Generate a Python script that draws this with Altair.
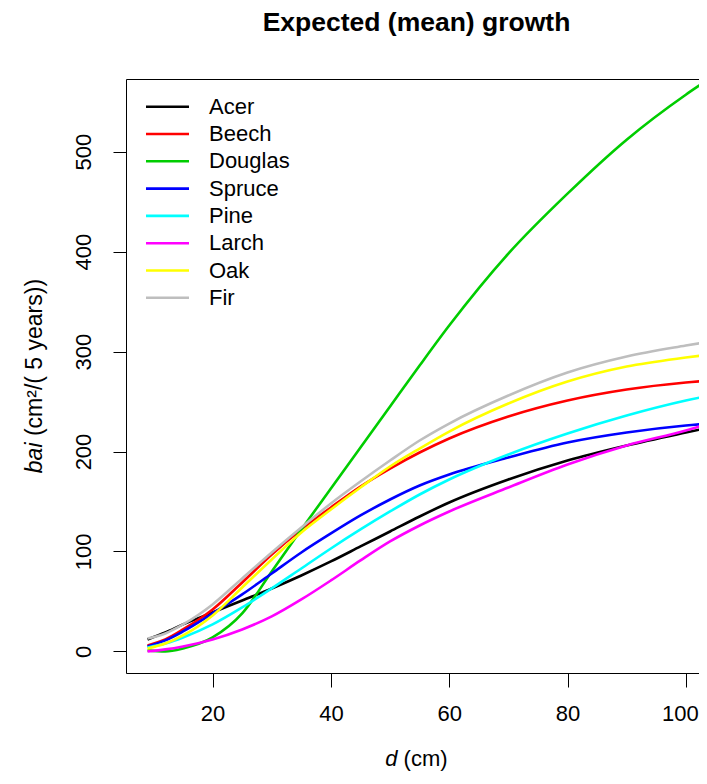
import altair as alt
import pandas as pd

# ---- data ----
d = [9, 12, 15, 20, 25, 30, 35, 40, 45, 50, 55, 60, 70, 80, 90, 100, 104]

acer    = [12, 19, 27, 39, 51, 63, 76, 90, 105, 120, 135, 149, 172, 191, 206, 219, 224]
beech   = [6, 12, 22, 42, 69, 97, 122, 144, 165, 183, 199, 213, 235, 251, 262, 269, 271]
douglas = [1, 0, 3, 14, 38, 80, 122, 163, 204, 245, 286, 326, 398, 458, 512, 557, 573]
spruce  = [5, 11, 20, 38, 57, 78, 99, 118, 136, 152, 166, 177, 194, 209, 219, 226, 228]
pine    = [4, 8, 14, 27, 44, 63, 83, 103, 122, 140, 157, 172, 197, 218, 236, 251, 256]
larch   = [0, 2, 5, 12, 22, 35, 52, 71, 91, 110, 126, 140, 164, 187, 206, 221, 228]
oak     = [3, 8, 16, 36, 64, 92, 119, 142, 164, 185, 203, 220, 248, 270, 285, 294, 297]
fir     = [13, 18, 27, 47, 73, 99, 124, 148, 170, 191, 211, 228, 256, 279, 295, 306, 310]

species = ["Acer", "Beech", "Douglas", "Spruce", "Pine", "Larch", "Oak", "Fir"]
colors = ["#000000", "#FF0000", "#00CD00", "#0000FF", "#00FFFF", "#FF00FF", "#FFFF00", "#BEBEBE"]

x_ticks = [20, 40, 60, 80, 100]
y_ticks = [0, 100, 200, 300, 400, 500]

series = dict(zip(species, [acer, beech, douglas, spruce, pine, larch, oak, fir]))
rows = []
for k, sp in enumerate(species):
    for xv, yv in zip(d, series[sp]):
        rows.append({"species": sp, "ord": k, "d": xv, "bai": yv})
df = pd.DataFrame(rows)
leg_df = pd.DataFrame({"species": species, "row": list(range(len(species)))})

FONT = "Liberation Sans"
W, H = 573, 594

color_enc = alt.Color("species:N", scale=alt.Scale(domain=species, range=colors), legend=None)

lines = alt.Chart(df).mark_line(strokeWidth=2.6, clip=True, interpolate="monotone").encode(
    x=alt.X("d:Q", scale=alt.Scale(domain=[5.36, 102.23], nice=False, zero=False),
            axis=alt.Axis(values=x_ticks, title=None, tickSize=14, labelPadding=16,
                          labelBaseline="top",
                          labelOffset={"condition": {"test": "datum.value == 100", "value": -6},
                                       "value": 0})),
    y=alt.Y("bai:Q", scale=alt.Scale(domain=[-21.6, 572.7], nice=False, zero=False),
            axis=alt.Axis(values=y_ticks, title=None, tickSize=13, labelAngle=270,
                          labelAlign="center", labelBaseline="alphabetic", labelPadding=23)),
    color=color_enc,
    order=alt.Order("ord:Q"),
)

leg_y = alt.Y("row:O", scale=alt.Scale(type="point", domain=list(range(len(species))),
                                       range=[27.7, 27.7 + 7 * 27.3], padding=0), axis=None)

leg_lines = alt.Chart(leg_df).mark_rule(strokeWidth=2.6).encode(
    x=alt.value(20), x2=alt.value(63), y=leg_y, color=color_enc)

leg_text = alt.Chart(leg_df).mark_text(align="left", baseline="middle", fontSize=22,
                                       font=FONT, color="black").encode(
    x=alt.value(83), y=leg_y, text="species:N")

title = alt.Chart(pd.DataFrame({"t": ["Expected (mean) growth"]})).mark_text(
    align="center", baseline="alphabetic", fontSize=26.5, fontWeight="bold", font=FONT,
    color="black").encode(x=alt.value(290.5), y=alt.value(-48), text="t:N")

ytitle_a = alt.Chart(pd.DataFrame({"t": ["bai"]})).mark_text(
    align="left", baseline="middle", angle=270, fontSize=23, fontStyle="italic", font=FONT,
    color="black").encode(x=alt.value(-91), y=alt.value(394.2), text="t:N")
ytitle_b = alt.Chart(pd.DataFrame({"t": ["(cm²/( 5 years))"]})).mark_text(
    align="left", baseline="middle", angle=270, fontSize=23, font=FONT,
    color="black").encode(x=alt.value(-91), y=alt.value(357.1), text="t:N")

xtitle_a = alt.Chart(pd.DataFrame({"t": ["d"]})).mark_text(
    align="left", baseline="alphabetic", fontSize=22, fontStyle="italic", font=FONT,
    color="black").encode(x=alt.value(259.3), y=alt.value(687), text="t:N")
xtitle_b = alt.Chart(pd.DataFrame({"t": ["(cm)"]})).mark_text(
    align="left", baseline="alphabetic", fontSize=22, font=FONT,
    color="black").encode(x=alt.value(277.6), y=alt.value(687), text="t:N")

chart = alt.layer(
    lines, leg_lines, leg_text, title, ytitle_a, ytitle_b, xtitle_a, xtitle_b
).resolve_scale(y="independent").properties(
    width=W, height=H,
    autosize=alt.AutoSizeParams(type="none"),
    padding={"left": 118, "top": 71, "right": 0, "bottom": 99},
).configure_view(
    stroke="black", strokeWidth=1
).configure_axis(
    domain=False, grid=False, tickColor="black", tickWidth=1,
    labelColor="black", labelFont=FONT, labelFontSize=22,
)

chart.save("out.html", embed_options={"renderer": "svg", "actions": False})
